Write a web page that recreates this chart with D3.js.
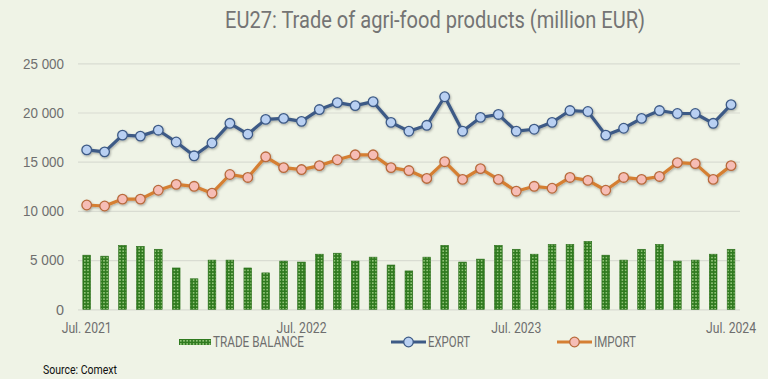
<!DOCTYPE html>
<html><head><meta charset="utf-8">
<script src="https://cdn.jsdelivr.net/npm/d3@7"></script>
<style>
html,body{margin:0;padding:0;background:#eff3e6;}
svg{display:block;font-family:Roboto,"Liberation Sans",sans-serif;}
</style></head>
<body><svg id="c" width="768" height="379"></svg>
<script>
const months = ["Jul. 2021","Aug. 2021","Sep. 2021","Oct. 2021","Nov. 2021","Dec. 2021","Jan. 2022","Feb. 2022","Mar. 2022","Apr. 2022","May 2022","Jun. 2022",
"Jul. 2022","Aug. 2022","Sep. 2022","Oct. 2022","Nov. 2022","Dec. 2022","Jan. 2023","Feb. 2023","Mar. 2023","Apr. 2023","May 2023","Jun. 2023",
"Jul. 2023","Aug. 2023","Sep. 2023","Oct. 2023","Nov. 2023","Dec. 2023","Jan. 2024","Feb. 2024","Mar. 2024","Apr. 2024","May 2024","Jun. 2024","Jul. 2024"];
const exportVals = [16200,16000,17700,17600,18200,17000,15600,16900,18900,17800,19300,19400,19100,20300,21000,20700,21100,19000,18100,18700,21600,18100,19500,19800,
18100,18300,19000,20200,20100,17700,18400,19400,20200,19900,19900,18900,20800];
const importVals = [10600,10500,11200,11200,12100,12700,12500,11800,13700,13400,15500,14400,14200,14600,15200,15700,15700,14400,14100,13300,15000,13200,14300,13200,
12000,12500,12300,13400,13100,12100,13400,13200,13500,14900,14800,13200,14600];
const balanceVals = [5500,5400,6500,6400,6100,4200,3100,5000,5000,4200,3700,4900,4800,5600,5700,4900,5300,4500,3900,5300,6500,4800,5100,6500,
6100,5600,6600,6600,6900,5500,5000,6100,6600,4900,5000,5600,6100];
const yTicks = [0,5000,10000,15000,20000,25000];
const xTickLabels = ["Jul. 2021","Jul. 2022","Jul. 2023","Jul. 2024"];
const title = "EU27: Trade of agri-food products (million EUR)";

const svg = d3.select("#c");
const defs = svg.append("defs");
const pat = defs.append("pattern").attr("id","dots").attr("patternUnits","userSpaceOnUse")
  .attr("width",3.2).attr("height",3.2);
pat.append("rect").attr("width",3.2).attr("height",3.2).attr("fill","#2f7a1f");
pat.append("circle").attr("cx",1.6).attr("cy",1.6).attr("r",0.85).attr("fill","#a9d68e");
const sh = defs.append("filter").attr("id","sh").attr("x","-20%").attr("y","-20%").attr("width","140%").attr("height","160%");
sh.append("feDropShadow").attr("dx",0.8).attr("dy",1.2).attr("stdDeviation",0.9).attr("flood-color","#000").attr("flood-opacity",0.3);

const x = d3.scaleBand().domain(months).range([77.75,740]).paddingInner(0).paddingOuter(0);
const y = d3.scaleLinear().domain([0,25000]).range([309.3,63.3]);
const cx = m => x(m) + x.bandwidth()/2;
const fmt = v => d3.format(",")(v).replace(/,/g," ");
const GREY = "#6e6e6e";

function fit(sel, len){ sel.attr("textLength",len).attr("lengthAdjust","spacingAndGlyphs"); return sel; }

fit(svg.append("text").attr("x",435).attr("y",28).attr("text-anchor","middle")
  .attr("font-size",23).attr("fill","#747474").text(title), 420);

// grid
const yAxis = d3.axisLeft(y).tickValues(yTicks).tickSize(-(740-78)).tickFormat(fmt).tickPadding(14);
const ga = svg.append("g").attr("transform","translate(78,0)").call(yAxis);
ga.select(".domain").remove();
ga.selectAll(".tick line").attr("stroke","#d9dcd2").attr("stroke-width",1.2);
ga.selectAll(".tick text").attr("font-size",15).attr("fill",GREY).attr("font-family","inherit")
  .each(function(d){ const l = d===0 ? 8 : (d<10000 ? 34 : 41); fit(d3.select(this), l); });

// bars
const bw = 7.7;
svg.append("g").selectAll("rect").data(balanceVals).join("rect")
  .attr("x",(d,i)=>cx(months[i])-bw/2).attr("width",bw)
  .attr("y",d=>y(d)).attr("height",d=>y(0)-y(d))
  .attr("fill","url(#dots)").attr("stroke","#2a6e1a").attr("stroke-width",0.6);

// lines
function series(vals, lineCol, fillCol, strokeCol){
  const g = svg.append("g").attr("filter","url(#sh)");
  g.append("path").datum(vals)
    .attr("d", d3.line().x((d,i)=>cx(months[i])).y(d=>y(d)))
    .attr("fill","none").attr("stroke",lineCol).attr("stroke-width",3.2).attr("stroke-linejoin","round");
  g.selectAll("circle").data(vals).join("circle")
    .attr("cx",(d,i)=>cx(months[i])).attr("cy",d=>y(d)).attr("r",4.8)
    .attr("fill",fillCol).attr("stroke",strokeCol).attr("stroke-width",1.3);
}
series(importVals,"#d57f33","#f6bdb6","#b86a3c");
series(exportVals,"#3d5a86","#b9d0f2","#3d5a86");

// x labels
svg.append("g").selectAll("text").data(xTickLabels).join("text")
  .attr("x",d=>cx(d)).attr("y",332.5).attr("text-anchor","middle")
  .attr("font-size",14).attr("fill",GREY).text(d=>d)
  .each(function(){ fit(d3.select(this), 50); });

// legend
const ly = 342;
svg.append("rect").attr("x",179).attr("y",ly-3).attr("width",32).attr("height",6).attr("fill","url(#dots)");
fit(svg.append("text").attr("x",213).attr("y",ly+5).attr("font-size",14).attr("fill",GREY).text("TRADE BALANCE"), 91);
function legLine(x0, col, fillCol, strokeCol, label){
  svg.append("line").attr("x1",x0).attr("x2",x0+35).attr("y1",ly).attr("y2",ly).attr("stroke",col).attr("stroke-width",3.2);
  svg.append("circle").attr("cx",x0+17.5).attr("cy",ly).attr("r",4.8).attr("fill",fillCol).attr("stroke",strokeCol).attr("stroke-width",1.3);
  fit(svg.append("text").attr("x",x0+37).attr("y",ly+5).attr("font-size",14).attr("fill",GREY).text(label), 42);
}
legLine(391,"#3d5a86","#b9d0f2","#3d5a86","EXPORT");
legLine(557,"#d57f33","#f6bdb6","#b86a3c","IMPORT");

fit(svg.append("text").attr("x",43).attr("y",374).attr("font-size",13).attr("fill","#111").text("Source: Comext"), 74);
</script></body></html>
